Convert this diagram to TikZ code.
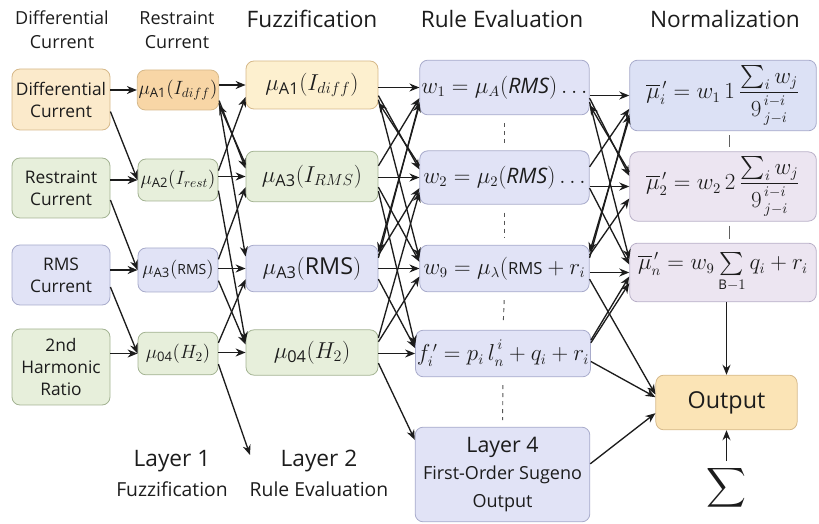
\documentclass[tikz,border=0pt]{standalone}
\usepackage{fontspec}
\setmainfont{Open Sans}
\usepackage{amsmath}
\usetikzlibrary{arrows.meta,positioning,calc}
\definecolor{Ink}{HTML}{1C1C1C}
\definecolor{PeachFill}{HTML}{FBEACB}
\definecolor{PeachDeep}{HTML}{F8D6A6}
\definecolor{CreamFill}{HTML}{FDF0CF}
\definecolor{OutFill}{HTML}{FBE4B6}
\definecolor{PeachLine}{HTML}{D6B98A}
\definecolor{SageFill}{HTML}{E7EFDB}
\definecolor{SageLine}{HTML}{A3B392}
\definecolor{LilacFill}{HTML}{E1E3F6}
\definecolor{LilacLine}{HTML}{A8ABCB}
\definecolor{BlueFill}{HTML}{DCE1F5}
\definecolor{MauveFill}{HTML}{ECE5F1}
\definecolor{MauveLine}{HTML}{B9B0C8}
\newcommand{\Fs}[2]{\fontsize{#1}{#2}\selectfont}
\tikzset{
  box/.style={rounded corners=6pt, line width=0.6pt, align=center, inner sep=1pt, text=Ink},
  peach/.style={box, fill=PeachFill, draw=PeachLine},
  sage/.style={box, fill=SageFill, draw=SageLine},
  lilac/.style={box, fill=LilacFill, draw=LilacLine},
  mauve/.style={box, fill=MauveFill, draw=MauveLine},
  inbox/.style={minimum width=73.5pt, font=\Fs{13}{16.5}},
  mubox/.style={minimum width=60pt, font=\Fs{14}{16}},
  fzbox/.style={minimum width=99pt, font=\Fs{17.5}{20}},
  rulebox/.style={minimum width=127pt, font=\Fs{16}{19}},
  normbox/.style={minimum width=140pt, font=\Fs{16}{19}},
  head/.style={align=center, text=Ink, font=\Fs{13.5}{18}},
  title/.style={text=Ink, font=\Fs{17}{20}},
  arr/.style={-{Stealth[length=7.5pt,width=6pt]}, line width=1pt, draw=Ink},
  backarr/.style={{Stealth[length=7.5pt,width=6pt]}-, line width=1pt, draw=Ink},
  gap/.style={dash pattern=on 3pt off 3pt, line width=0.7pt, draw=Ink!75, shorten <=6pt, shorten >=5pt},
  link/.style={line width=0.9pt, draw=Ink!70, shorten <=3pt, shorten >=3pt},
}

\begin{document}
\begin{tikzpicture}[x=0.75pt,y=-0.75pt]
\useasboundingbox (0,0) rectangle (819,524);

% headings
\node[head] (hDiff) at (62,30) {Differential\\Current};
\node[head] (hRest) at (177,30) {Restraint\\Current};
\node[title] (hFuzz) at (312,19) {Fuzzification};
\node[title] (hRule) at (502,19) {Rule Evaluation};
\node[title] (hNorm) at (725,19) {Normalization};

% inputs
\node[peach, inbox, minimum height=45.75pt] (inDiff) at (61,99.5) {Differential\\Current};
\node[sage, inbox, minimum height=45pt] (inRest) at (61,188) {Restraint\\Current};
\node[lilac, inbox, minimum height=45pt] (inRms) at (61,275) {RMS\\Current};
\node[sage, inbox, minimum height=57pt] (inHarm) at (61,367) {2nd\\Harmonic\\Ratio};

% membership
\node[box, fill=PeachDeep, draw=PeachLine, mubox, minimum height=30pt] (muDiff) at (178,90) {$\mu_{\text{A1}}(I_{diff})$};
\node[sage, mubox, minimum height=31.5pt] (muRest) at (178,180) {$\mu_{\text{A2}}(I_{rest})$};
\node[lilac, mubox, minimum height=33pt] (muRms) at (178,270) {$\mu_{\text{A3}}(\text{\Fs{10.5}{12}RMS})$};
\node[sage, mubox, minimum height=32pt] (muHarm) at (178,353.5) {$\mu_{\text{04}}(H_2)$};

% fuzzification
\node[box, fill=CreamFill, draw=PeachLine, fzbox, minimum height=36pt] (fzDiff) at (312,85) {$\mu_{\text{A1}}(I_{diff})$};
\node[sage, fzbox, minimum height=38pt] (fzRest) at (312,176.5) {$\mu_{\text{A3}}(I_{RMS})$};
\node[lilac, fzbox, minimum height=35pt] (fzRms) at (312,268.5) {$\mu_{\text{A3}}(\text{RMS})$};
\node[sage, fzbox, minimum height=34pt] (fzHarm) at (312,352.5) {$\mu_{\text{04}}(H_2)$};

% rules
\node[lilac, rulebox, minimum height=41pt] (rDiff) at (504.5,87.5) {$w_1 = \mu_A(\mathit{RMS})\ldots$};
\node[lilac, rulebox, minimum height=40pt] (rRest) at (504.5,177.5) {$w_2 = \mu_2(\mathit{RMS})\ldots$};
\node[lilac, rulebox, minimum height=35pt] (rRms) at (504.5,268.5) {$w_9 = \mu_\lambda(\text{\Fs{12.5}{15}RMS} + r_i$};
\node[lilac, rulebox, minimum height=35pt] (rF) at (503,353.5) {$f^{\,\prime}_i = p_i\,l_{n\vphantom{l}}^{\,i\vphantom{g}} + q_i + r_i$};
\node[lilac, minimum width=131pt, minimum height=71pt, font=\Fs{13.5}{20.5}] (layFour) at (502.5,474.5) {{\Fs{16}{20.5}Layer 4}\\First-Order Sugeno\\Output};

% normalization
\node[box, fill=BlueFill, draw=LilacLine, normbox, minimum height=53pt] (nDiff) at (723,95.5) {$\overline{\mu}^{\,\prime}_{i} = w_1\,1\,\dfrac{\sum\nolimits_{i} w_j}{9^{\,i-i\vphantom{g}}_{\,j-i\vphantom{l}}}$};
\node[mauve, normbox, minimum height=52pt] (nRest) at (723,186.5) {$\overline{\mu}^{\,\prime}_{2} = w_2\,2\,\dfrac{\sum\nolimits_{i} w_j}{9^{\,i-i\vphantom{g}}_{\,j-i\vphantom{l}}}$};
\node[mauve, normbox, minimum height=44pt] (nN) at (723,272.5) {$\overline{\mu}^{\,\prime}_{n} = w_9 \sum\limits_{\text{\Fs{10}{12}B}-1} q_i + r_i$};
\node[box, fill=OutFill, draw=PeachLine, minimum width=106pt, minimum height=41pt, font=\Fs{17.5}{20}] (out) at (726.5,402.5) {Output};
\node[text=Ink, font=\Fs{20}{24}] (sigma) at (726.5,488) {$\displaystyle\sum$};

% layer captions
\node[text=Ink, align=center, font=\Fs{14.5}{23}] (layOne) at (172,473.5) {{\Fs{17}{23}Layer 1}\\Fuzzification};
\node[text=Ink, align=center, font=\Fs{14.5}{23}] (layTwo) at (319,473.5) {{\Fs{17}{23}Layer 2}\\Rule Evaluation};

% straight links
\foreach \a/\b in {inDiff/muDiff, inRest/muRest, inRms/muRms, inHarm/muHarm,
                   muDiff/fzDiff, muRest/fzRest, muRms/fzRms, muHarm/fzHarm,
                   fzDiff/rDiff, fzRest/rRest, fzRms/rRms, fzHarm/rF,
                   rDiff/nDiff, rRest/nRest, rRms/nN}
  \draw[arr] (\b.west -| \a.east) -- (\b.west);
\foreach \a/\b in {inDiff/muRest, inRest/muRms, inRms/muHarm}
  \draw[arr] ([yshift=-9pt]\a.east) -- (\b.west);

% crossing links
\foreach \a/\sa/\b/\tb in {muDiff/-8/fzRest/6, muDiff/-10/fzRms/9, muRest/7/fzDiff/-9,
    muRest/-8/fzHarm/8, muRms/8/fzRest/-8, muRms/-8/fzHarm/6, muHarm/8/fzRms/-8,
    fzDiff/-8/rRest/6, fzDiff/-11/rRms/8, fzRest/8/rDiff/-8, fzRest/-8/rRms/5,
    fzRest/-11/rF/6, fzRms/8/rDiff/-11, fzRms/10/rRest/-8, fzRms/-8/rF/4,
    fzHarm/8/rRms/-6, fzHarm/11/rRest/-11, fzHarm/-8/layFour/26,
    rDiff/-8/nRest/8, rDiff/-11/nN/10, rRest/8/nDiff/-10, rRest/-8/nN/6,
    rRms/8/nDiff/-14, rRms/10/nRest/-9, rF/8/nN/-8, rF/10/nN/-3,
    rRms/-8/out/6, rF/-6/out/4, layFour/8/out/-8}
  \draw[arr] ([yshift=\sa pt]\a.east) -- ([yshift=\tb pt]\b.west);
\foreach \a/\sa/\b/\tb in {muDiff/-11/fzRest/9, fzDiff/-13/rRest/9, fzRms/12/rDiff/-13,
    rDiff/-13/nRest/11, rRms/12/nDiff/-17}
  \draw[backarr] ([yshift=\sa pt]\a.east) -- ([yshift=\tb pt]\b.west);
\coordinate (dropTwo) at (250,455);
\draw[arr] ([yshift=-8pt]muHarm.east) -- (dropTwo);

% column gaps
\foreach \a/\b in {rDiff/rRest, rRest/rRms, rRms/rF, rF/layFour}
  \draw[gap] (\a.south) -- (\b.north);
\foreach \a/\b in {nDiff/nRest, nRest/nN}
  \draw[link] ([xshift=5pt]\a.south) -- ([xshift=5pt]\b.north);

% output
\draw[arr] (out.north |- nN.south) -- (out.north);
\draw[arr] (sigma.north) -- (out.south);
\end{tikzpicture}
\end{document}
